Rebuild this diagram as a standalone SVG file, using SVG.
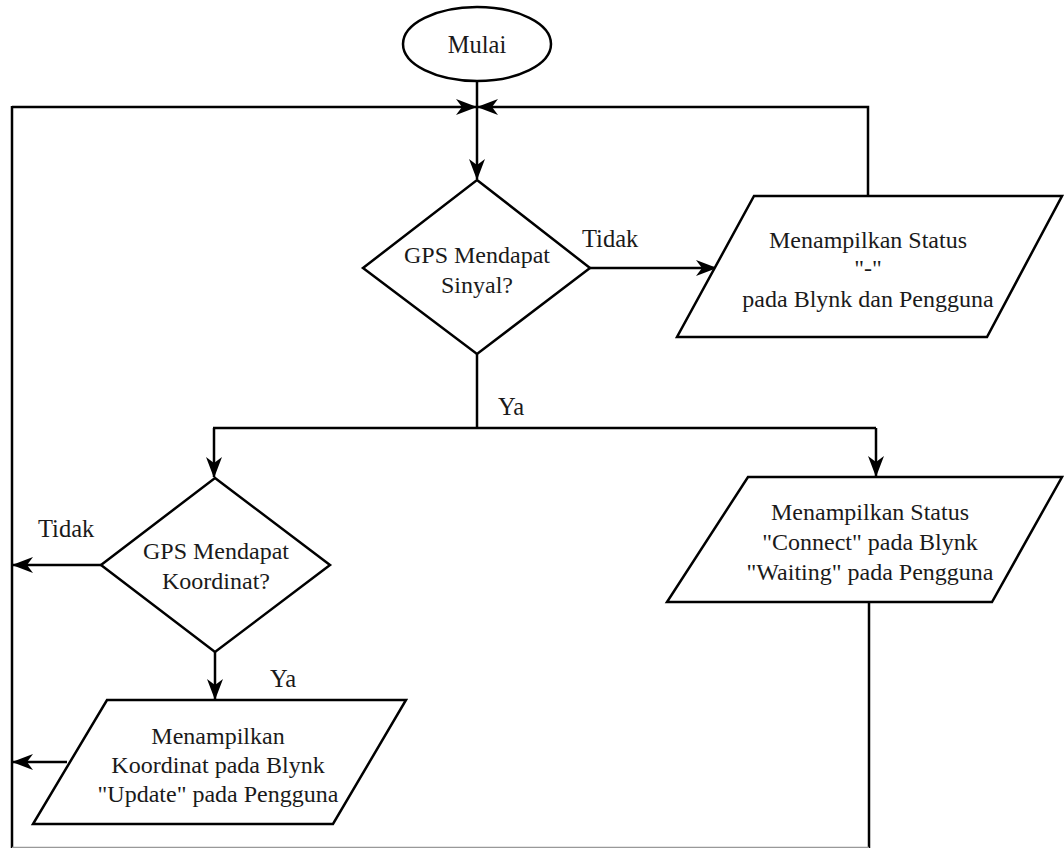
<svg xmlns="http://www.w3.org/2000/svg" width="1064" height="848" viewBox="0 0 1064 848">
<style>
.s{fill:#fff;stroke:#000;stroke-width:2.5}
.c{fill:none;stroke:#000;stroke-width:2.5}
</style>
<defs>
<marker id="a" markerUnits="userSpaceOnUse" markerWidth="22" markerHeight="18" viewBox="0 0 22 18" refX="20" refY="9" orient="auto">
<path d="M0,1 L21,9 L0,17 L6,9 Z" fill="#000"/>
</marker>
</defs>
<g id="connectors">
<path class="c" d="M12,107 H476" marker-end="url(#a)"/>
<path class="c" d="M868,196 V107 H478" marker-end="url(#a)"/>
<path class="c" d="M477,82 V179" marker-end="url(#a)"/>
<path class="c" d="M590,268 H716" marker-end="url(#a)"/>
<path class="c" d="M477,354 V428"/>
<path class="c" d="M213,428 H876"/>
<path class="c" d="M214,428 V477" marker-end="url(#a)"/>
<path class="c" d="M876,428 V476" marker-end="url(#a)"/>
<path class="c" d="M101,565 H13" marker-end="url(#a)"/>
<path class="c" d="M215,652 V699" marker-end="url(#a)"/>
<path class="c" d="M67,762 H13" marker-end="url(#a)"/>
<path class="c" d="M12,106 V848"/>
<path class="c" d="M869,602 V848"/>
<path d="M12,847.5 H869" stroke="#999" stroke-width="1.5" fill="none"/>
<g font-family="'Liberation Serif','Times New Roman',serif" font-size="24.5" fill="#1a1a1a">
<text x="582" y="247">Tidak</text>
<text x="498" y="415">Ya</text>
<text x="38" y="537">Tidak</text>
<text x="270" y="687">Ya</text>
</g>
</g>
<g id="mulai">
<ellipse class="s" cx="477" cy="44" rx="74" ry="37"/>
<text x="477" y="53" font-family="'Liberation Serif','Times New Roman',serif" font-size="24.5" fill="#1a1a1a" text-anchor="middle">Mulai</text>
</g>
<g id="cek-sinyal">
<path class="s" d="M477,180 L590,268 L477,354 L363,268 Z"/>
<g font-family="'Liberation Serif','Times New Roman',serif" font-size="24" fill="#1a1a1a" text-anchor="middle">
<text x="477" y="263">GPS Mendapat</text>
<text x="477" y="293">Sinyal?</text>
</g>
</g>
<g id="status-strip">
<path class="s" d="M754,196 L1062,196 L987,337 L677,337 Z"/>
<g font-family="'Liberation Serif','Times New Roman',serif" font-size="24" fill="#1a1a1a" text-anchor="middle">
<text x="868" y="248">Menampilkan Status</text>
<text x="868" y="276">"-"</text>
<text x="868" y="307">pada Blynk dan Pengguna</text>
</g>
</g>
<g id="cek-koordinat">
<path class="s" d="M215,478 L330,565 L215,652 L101,565 Z"/>
<g font-family="'Liberation Serif','Times New Roman',serif" font-size="24" fill="#1a1a1a" text-anchor="middle">
<text x="216" y="559">GPS Mendapat</text>
<text x="216" y="589">Koordinat?</text>
</g>
</g>
<g id="status-connect">
<path class="s" d="M748,477 L1062,477 L992,602 L667,602 Z"/>
<g font-family="'Liberation Serif','Times New Roman',serif" font-size="24" fill="#1a1a1a" text-anchor="middle">
<text x="870" y="520">Menampilkan Status</text>
<text x="870" y="550">"Connect" pada Blynk</text>
<text x="870" y="580">"Waiting" pada Pengguna</text>
</g>
</g>
<g id="tampil-koordinat">
<path class="s" d="M107,700 L406,700 L333,824 L33,824 Z"/>
<g font-family="'Liberation Serif','Times New Roman',serif" font-size="24" fill="#1a1a1a" text-anchor="middle">
<text x="218" y="744">Menampilkan</text>
<text x="218" y="773">Koordinat pada Blynk</text>
<text x="218" y="802">"Update" pada Pengguna</text>
</g>
</g>
</svg>
